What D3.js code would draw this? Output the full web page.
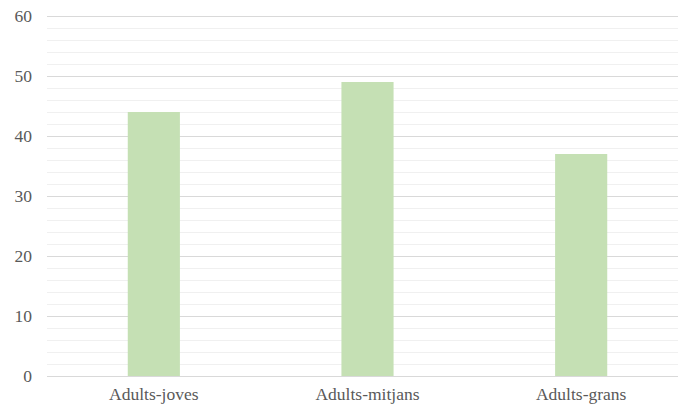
<!DOCTYPE html>
<html><head><meta charset="utf-8">
<script src="https://cdn.jsdelivr.net/npm/d3@7"></script>
<style>body{margin:0;background:#fff;}svg{display:block;}</style>
</head><body>
<script>
const categories = ["Adults-joves", "Adults-mitjans", "Adults-grans"];
const values = [44, 49, 37];
const majorTicks = [0, 10, 20, 30, 40, 50, 60];
const minorTicks = d3.range(0, 61, 2);

const W = 678, H = 408;
const margin = {left: 47, right: -10, top: 16, bottom: 32};
const svg = d3.select("body").append("svg").attr("width", W).attr("height", H);
const x = d3.scaleBand().domain(categories).range([margin.left, W - margin.right]).paddingInner(0.756).paddingOuter(0.378);
const y = d3.scaleLinear().domain([0, 60]).range([H - margin.bottom, margin.top]);

svg.append("g").selectAll("line").data(minorTicks.filter(d => d % 10 !== 0)).join("line")
  .attr("x1", margin.left).attr("x2", W).attr("y1", d => Math.round(y(d)) + 0.5).attr("y2", d => Math.round(y(d)) + 0.5)
  .attr("stroke", "#f0f0f0").attr("stroke-width", 1);
svg.append("g").selectAll("line").data(majorTicks).join("line")
  .attr("x1", margin.left).attr("x2", W).attr("y1", d => Math.round(y(d)) + 0.5).attr("y2", d => Math.round(y(d)) + 0.5)
  .attr("stroke", "#d9d9d9").attr("stroke-width", 1);

svg.append("g").selectAll("rect").data(values).join("rect")
  .attr("x", (d, i) => x(categories[i])).attr("width", x.bandwidth())
  .attr("y", d => y(d)).attr("height", d => y(0) - y(d))
  .attr("fill", "#c5e0b4");

const yAxis = d3.axisLeft(y).tickValues(majorTicks).tickSize(0).tickPadding(0);
svg.append("g").attr("transform", "translate(32,0)").call(yAxis)
  .attr("font-family", "Liberation Serif").attr("font-size", 17.5)
  .call(g => g.select(".domain").remove())
  .selectAll("text").attr("fill", "#595959");

const xAxis = d3.axisBottom(x).tickSize(0).tickPadding(0);
svg.append("g").attr("transform", `translate(0,${H - margin.bottom + 12})`).call(xAxis)
  .attr("font-family", "Liberation Serif").attr("font-size", 17.5)
  .call(g => g.select(".domain").remove())
  .selectAll("text").attr("fill", "#595959");
</script>
</body></html>
